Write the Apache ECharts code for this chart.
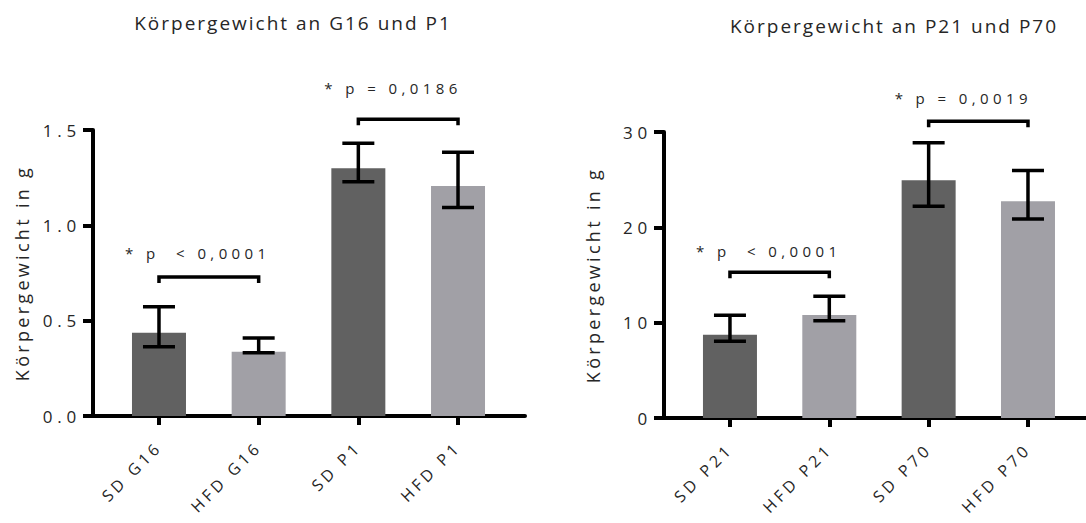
<!DOCTYPE html>
<html>
<head>
<meta charset="utf-8">
<script src="https://cdn.jsdelivr.net/npm/echarts@6/dist/echarts.min.js"></script>
<style>
  html, body { margin: 0; padding: 0; background: #ffffff; }
  #chart { width: 1086px; height: 523px; }
  /* wide tracking, tuned per text role (each role uses its own font size) */
  #chart text { letter-spacing: 4px; }
  #chart text[style*="19px"] { letter-spacing: 2px; }   /* titles */
  #chart text[style*="18px"] { letter-spacing: 3.3px; } /* y axis names */
  #chart text[style*="17px"] { letter-spacing: 4.8px; } /* y tick labels */
  #chart text[style*="16px"] { letter-spacing: 3.8px; } /* category labels */
  #chart text[style*="15px"] { letter-spacing: 4.4px; } /* p-value labels */
</style>
</head>
<body>
<div id="chart"></div>
<script>
// ---- Körpergewicht an G16 und P1 ----
const titleA = 'Körpergewicht an G16 und P1';
const categoriesA = ['SD G16', 'HFD G16', 'SD P1', 'HFD P1'];
const meansA = [0.437, 0.337, 1.299, 1.206];
const lowerA = [0.363, 0.332, 1.229, 1.094];
const upperA = [0.573, 0.409, 1.430, 1.383];
const yTicksA = [0, 0.5, 1.0, 1.5];
const pairsA = [[0, 1], [2, 3]];
const pairLevelsA = [0.729, 1.556];
const pLabelLevelsA = [0.856, 1.72];
const pLabelsA = ['* p  < 0,0001', '* p = 0,0186'];

// ---- Körpergewicht an P21 und P70 ----
const titleB = 'Körpergewicht an P21 und P70';
const categoriesB = ['SD P21', 'HFD P21', 'SD P70', 'HFD P70'];
const meansB = [8.74, 10.81, 24.93, 22.73];
const lowerB = [8.04, 10.21, 22.20, 20.88];
const upperB = [10.77, 12.76, 28.86, 25.95];
const yTicksB = [0, 10, 20, 30];
const pairsB = [[0, 1], [2, 3]];
const pairLevelsB = [15.28, 31.12];
const pLabelLevelsB = [17.48, 33.58];
const pLabelsB = ['* p  < 0,0001', '* p = 0,0019'];

const yName = 'Körpergewicht in g';

const FONT = "'Open Sans', 'DejaVu Sans', sans-serif";
const TEXT = '#262626';
const DARK = '#616161';
const LIGHT = '#a1a0a6';
const catIdx = [0, 1, 2, 3];

function barData(means) {
  return means.map((v, i) => ({
    value: [i, v],
    itemStyle: { color: i % 2 === 0 ? DARK : LIGHT }
  }));
}
function errData(lower, upper) {
  return lower.map((lo, i) => [i, lo, upper[i]]);
}
function pairData(pairs, levels, labelLevels) {
  return pairs.map((p, i) => [p[0], p[1], levels[i], labelLevels[i]]);
}

function errorItem(params, api) {
  const lo = api.coord([api.value(0), api.value(1)]);
  const hi = api.coord([api.value(0), api.value(2)]);
  const half = 16;
  const st = { stroke: '#000', lineWidth: 3.5, fill: null };
  return {
    type: 'group',
    children: [
      { type: 'line', shape: { x1: lo[0], y1: lo[1], x2: hi[0], y2: hi[1] }, style: st },
      { type: 'line', shape: { x1: hi[0] - half, y1: hi[1], x2: hi[0] + half, y2: hi[1] }, style: st },
      { type: 'line', shape: { x1: lo[0] - half, y1: lo[1], x2: lo[0] + half, y2: lo[1] }, style: st }
    ]
  };
}

function pairRenderer(labels) {
  return function (params, api) {
    const a = api.coord([api.value(0), api.value(2)]);
    const b = api.coord([api.value(1), api.value(2)]);
    const ty = api.coord([api.value(0), api.value(3)])[1];
    const drop = 6;
    return {
      type: 'group',
      children: [
        {
          type: 'polyline',
          shape: { points: [[a[0], a[1] + drop], [a[0], a[1]], [b[0], b[1]], [b[0], b[1] + drop]] },
          style: { stroke: '#000', lineWidth: 3.5, fill: null }
        },
        {
          type: 'text',
          x: a[0] - 34,
          y: ty,
          style: {
            text: labels[params.dataIndex],
            fontSize: 15,
            fontFamily: FONT,
            fill: TEXT,
            textAlign: 'left',
            textVerticalAlign: 'middle'
          }
        }
      ]
    };
  };
}

function xAxisFor(gridIndex, cats, min, max) {
  return {
    type: 'value',
    gridIndex: gridIndex,
    min: min,
    max: max,
    splitLine: { show: false },
    axisLine: { show: true, onZero: false, lineStyle: { color: '#000', width: 4 } },
    axisTick: { show: true, customValues: catIdx, length: 9, lineStyle: { color: '#000', width: 4 } },
    axisLabel: {
      show: true,
      customValues: catIdx,
      formatter: v => cats[Math.round(v)],
      rotate: 45,
      margin: 28,
      fontSize: 16,
      fontFamily: FONT,
      color: TEXT
    }
  };
}

function yAxisFor(gridIndex, ticks, decimals) {
  return {
    type: 'value',
    gridIndex: gridIndex,
    min: ticks[0],
    max: ticks[ticks.length - 1],
    interval: ticks[1] - ticks[0],
    splitLine: { show: false },
    axisLine: { show: true, onZero: false, lineStyle: { color: '#000', width: 4 } },
    axisTick: { show: true, length: 10, lineStyle: { color: '#000', width: 4 } },
    axisLabel: {
      formatter: v => v.toFixed(decimals),
      margin: 12,
      fontSize: 17,
      fontFamily: FONT,
      color: TEXT
    },
    name: yName,
    nameLocation: 'middle',
    nameGap: 62,
    nameTextStyle: { fontSize: 18, fontFamily: FONT, color: TEXT }
  };
}

const chart = echarts.init(document.getElementById('chart'), null, { renderer: 'svg' });

chart.setOption({
  animation: false,
  backgroundColor: '#ffffff',
  title: [
    { text: titleA, left: 288, top: 8, textAlign: 'center',
      textStyle: { fontSize: 19, fontWeight: 'normal', fontFamily: FONT, color: TEXT } },
    { text: titleB, left: 889, top: 11, textAlign: 'center',
      textStyle: { fontSize: 19, fontWeight: 'normal', fontFamily: FONT, color: TEXT } }
  ],
  grid: [
    { left: 93, right: 561, top: 130, bottom: 107 },
    { left: 664, right: 0, top: 132, bottom: 105 }
  ],
  xAxis: [
    xAxisFor(0, categoriesA, -0.662, 3.672),
    xAxisFor(1, categoriesB, -0.664, 3.584)
  ],
  yAxis: [
    yAxisFor(0, yTicksA, 1),
    yAxisFor(1, yTicksB, 0)
  ],
  series: [
    { type: 'bar', xAxisIndex: 0, yAxisIndex: 0, barWidth: 54, data: barData(meansA), silent: true },
    { type: 'custom', xAxisIndex: 0, yAxisIndex: 0, renderItem: errorItem,
      encode: { x: 0, y: [1, 2] }, data: errData(lowerA, upperA), silent: true, z: 3 },
    { type: 'custom', xAxisIndex: 0, yAxisIndex: 0, renderItem: pairRenderer(pLabelsA), clip: false,
      encode: { x: [0, 1], y: [2, 3] }, data: pairData(pairsA, pairLevelsA, pLabelLevelsA), silent: true, z: 3 },

    { type: 'bar', xAxisIndex: 1, yAxisIndex: 1, barWidth: 54, data: barData(meansB), silent: true },
    { type: 'custom', xAxisIndex: 1, yAxisIndex: 1, renderItem: errorItem,
      encode: { x: 0, y: [1, 2] }, data: errData(lowerB, upperB), silent: true, z: 3 },
    { type: 'custom', xAxisIndex: 1, yAxisIndex: 1, renderItem: pairRenderer(pLabelsB), clip: false,
      encode: { x: [0, 1], y: [2, 3] }, data: pairData(pairsB, pairLevelsB, pLabelLevelsB), silent: true, z: 3 }
  ]
});
</script>
</body>
</html>
